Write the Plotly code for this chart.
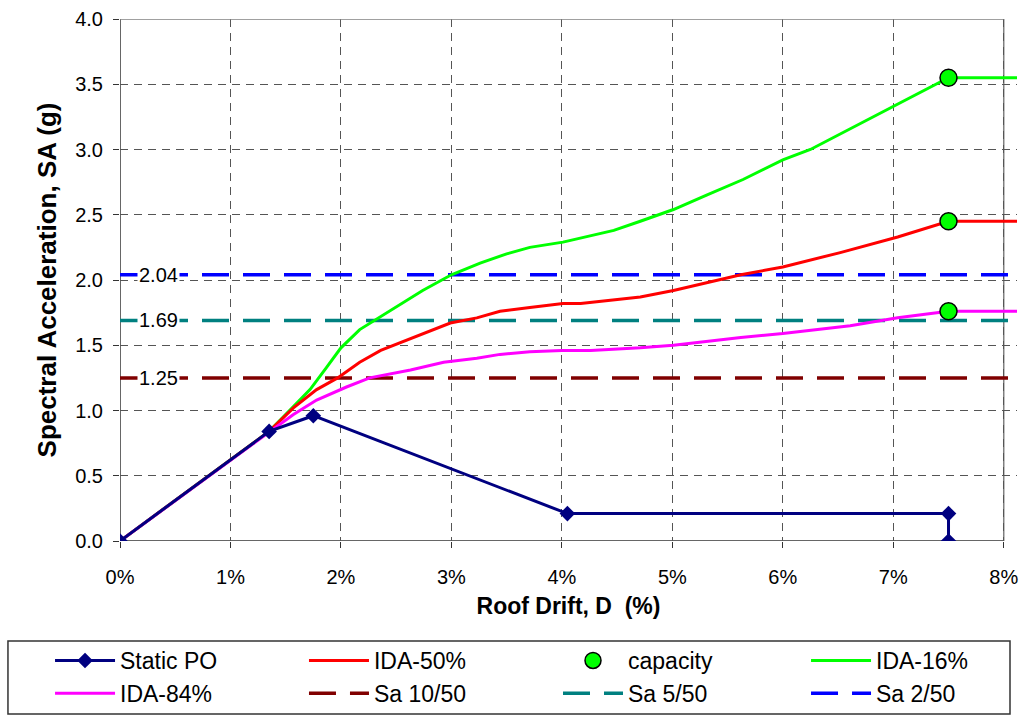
import plotly.graph_objects as go

# ---- data ----
po_x = [0.0, 1.35, 1.75, 4.05, 7.5, 7.5]
po_y = [0.0, 0.84, 0.96, 0.21, 0.21, 0.0]

ida50_x = [0.0, 1.35, 1.57, 1.78, 1.97, 2.17, 2.36, 2.63, 2.84, 2.99, 3.23, 3.44, 3.71, 4.01, 4.17, 4.53, 4.71, 5.01, 5.31, 5.62, 6.0, 6.52, 7.04, 7.5, 8.3]
ida50_y = [0.0, 0.84, 1.02, 1.16, 1.25, 1.37, 1.46, 1.55, 1.62, 1.67, 1.71, 1.76, 1.79, 1.82, 1.82, 1.85, 1.87, 1.92, 1.98, 2.04, 2.10, 2.21, 2.33, 2.45, 2.45]

ida16_x = [0.0, 1.35, 1.57, 1.72, 1.87, 2.0, 2.17, 2.36, 2.54, 2.74, 3.0, 3.26, 3.5, 3.71, 4.01, 4.17, 4.47, 4.71, 5.01, 5.31, 5.64, 6.0, 6.25, 7.5, 8.3]
ida16_y = [0.0, 0.84, 1.03, 1.16, 1.33, 1.48, 1.62, 1.72, 1.81, 1.92, 2.04, 2.13, 2.2, 2.25, 2.29, 2.32, 2.38, 2.45, 2.54, 2.65, 2.77, 2.92, 3.0, 3.55, 3.55]

ida84_x = [0.0, 1.35, 1.57, 1.78, 2.05, 2.26, 2.63, 2.93, 3.23, 3.44, 3.71, 4.0, 4.26, 4.71, 5.01, 5.62, 6.0, 6.61, 7.04, 7.5, 8.3]
ida84_y = [0.0, 0.84, 0.97, 1.08, 1.18, 1.25, 1.31, 1.37, 1.40, 1.43, 1.45, 1.46, 1.46, 1.48, 1.50, 1.56, 1.59, 1.65, 1.71, 1.76, 1.76]

cap_x = [7.5, 7.5, 7.5]
cap_y = [3.55, 2.45, 1.76]

sa_levels = [1.25, 1.69, 2.04]
sa_names = ["Sa 10/50", "Sa 5/50", "Sa 2/50"]
sa_colors = ["#800000", "#008080", "#0000FF"]
sa_labels = ["1.25", "1.69", "2.04"]
sa_x = [0.0, 8.3]

x_ticks = [0, 1, 2, 3, 4, 5, 6, 7, 8]
x_ticktext = ["0%", "1%", "2%", "3%", "4%", "5%", "6%", "7%", "8%"]
y_ticks = [0.0, 0.5, 1.0, 1.5, 2.0, 2.5, 3.0, 3.5, 4.0]
y_ticktext = ["0.0", "0.5", "1.0", "1.5", "2.0", "2.5", "3.0", "3.5", "4.0"]

FONT = "Liberation Sans, Arial, sans-serif"

fig = go.Figure()

# Sa dashed lines (drawn first); legend columns 2,3,4 second row
for lvl, nm, col, lg in zip(sa_levels, sa_names, sa_colors, ["legend2", "legend3", "legend4"]):
    fig.add_trace(go.Scatter(x=sa_x, y=[lvl, lvl], mode="lines", name=nm,
                             line=dict(color=col, width=3.5, dash="27px,14px"),
                             legend=lg, legendrank=2))

fig.add_trace(go.Scatter(x=ida16_x, y=ida16_y, mode="lines", name="IDA-16%",
                         line=dict(color="#00FF00", width=3), legend="legend4", legendrank=1))
fig.add_trace(go.Scatter(x=ida50_x, y=ida50_y, mode="lines", name="IDA-50%",
                         line=dict(color="#FF0000", width=3), legend="legend2", legendrank=1))
fig.add_trace(go.Scatter(x=ida84_x, y=ida84_y, mode="lines", name="IDA-84%",
                         line=dict(color="#FF00FF", width=3), legend="legend", legendrank=2))
fig.add_trace(go.Scatter(x=po_x, y=po_y, mode="lines+markers", name="Static PO",
                         line=dict(color="#000080", width=3),
                         marker=dict(symbol="diamond", size=12, color="#000080"),
                         legend="legend", legendrank=1))
fig.add_trace(go.Scatter(x=cap_x, y=cap_y, mode="markers", name="capacity",
                         marker=dict(symbol="circle", size=17, color="#00FF00",
                                     line=dict(color="black", width=1.5)),
                         legend="legend3", legendrank=1))

for lvl, lab in zip(sa_levels, sa_labels):
    fig.add_annotation(x=0.35, y=lvl, text=lab, showarrow=False,
                       font=dict(family=FONT, size=20, color="black"),
                       bgcolor="white", borderpad=1)

# frame
fig.add_shape(type="line", x0=0, x1=8, y0=4, y1=4, line=dict(color="#808080", width=1.5), layer="above")
fig.add_shape(type="line", x0=8, x1=8, y0=0, y1=4, line=dict(color="#808080", width=1.5), layer="below")
fig.add_shape(type="line", x0=0, x1=0, y0=0, y1=4, line=dict(color="#333333", width=1.5), layer="below")
fig.add_shape(type="line", x0=0, x1=8, y0=0, y1=0, line=dict(color="#333333", width=1.5), layer="below")
# legend box
fig.add_shape(type="rect", xref="paper", yref="paper", x0=-0.1249, x1=0.9922,
              y0=-0.3314, y1=-0.1916, line=dict(color="#333333", width=1.5))

fig.update_xaxes(range=[0, 8.12], tickvals=x_ticks, ticktext=x_ticktext,
                 showgrid=True, gridcolor="#555555", griddash="8px,6px", gridwidth=1,
                 zeroline=False, showline=False, ticks="outside", ticklen=6,
                 tickcolor="#333333", ticklabelstandoff=12,
                 tickfont=dict(family=FONT, size=20, color="black"),
                 title=dict(text="<b>Roof Drift, D  (%)</b>", standoff=10,
                            font=dict(family=FONT, size=23, color="black")))
fig.update_yaxes(range=[0, 4], tickvals=y_ticks, ticktext=y_ticktext,
                 showgrid=True, gridcolor="#555555", griddash="8px,6px", gridwidth=1,
                 zeroline=False, showline=False, ticks="outside", ticklen=6,
                 tickcolor="#333333", ticklabelstandoff=6,
                 tickfont=dict(family=FONT, size=20, color="black"),
                 title=dict(text="<b>Spectral Acceleration, SA (g)</b>", standoff=11,
                            font=dict(family=FONT, size=26, color="black")))

leg_common = dict(orientation="v", xref="paper", yref="container",
                  xanchor="left", yanchor="top", y=0.1088,
                  bgcolor="rgba(0,0,0,0)", borderwidth=0,
                  font=dict(family=FONT, size=23, color="black"),
                  traceorder="normal", itemwidth=60)

fig.update_layout(
    width=1023, height=717,
    margin=dict(l=120, r=6, t=19, b=176),
    plot_bgcolor="white", paper_bgcolor="white",
    showlegend=True,
    legend=dict(x=-0.078, **leg_common),
    legend2=dict(x=0.2051, **leg_common),
    legend3=dict(x=0.4883, **leg_common),
    legend4=dict(x=0.7648, **leg_common),
)

fig.write_html("out.html")
